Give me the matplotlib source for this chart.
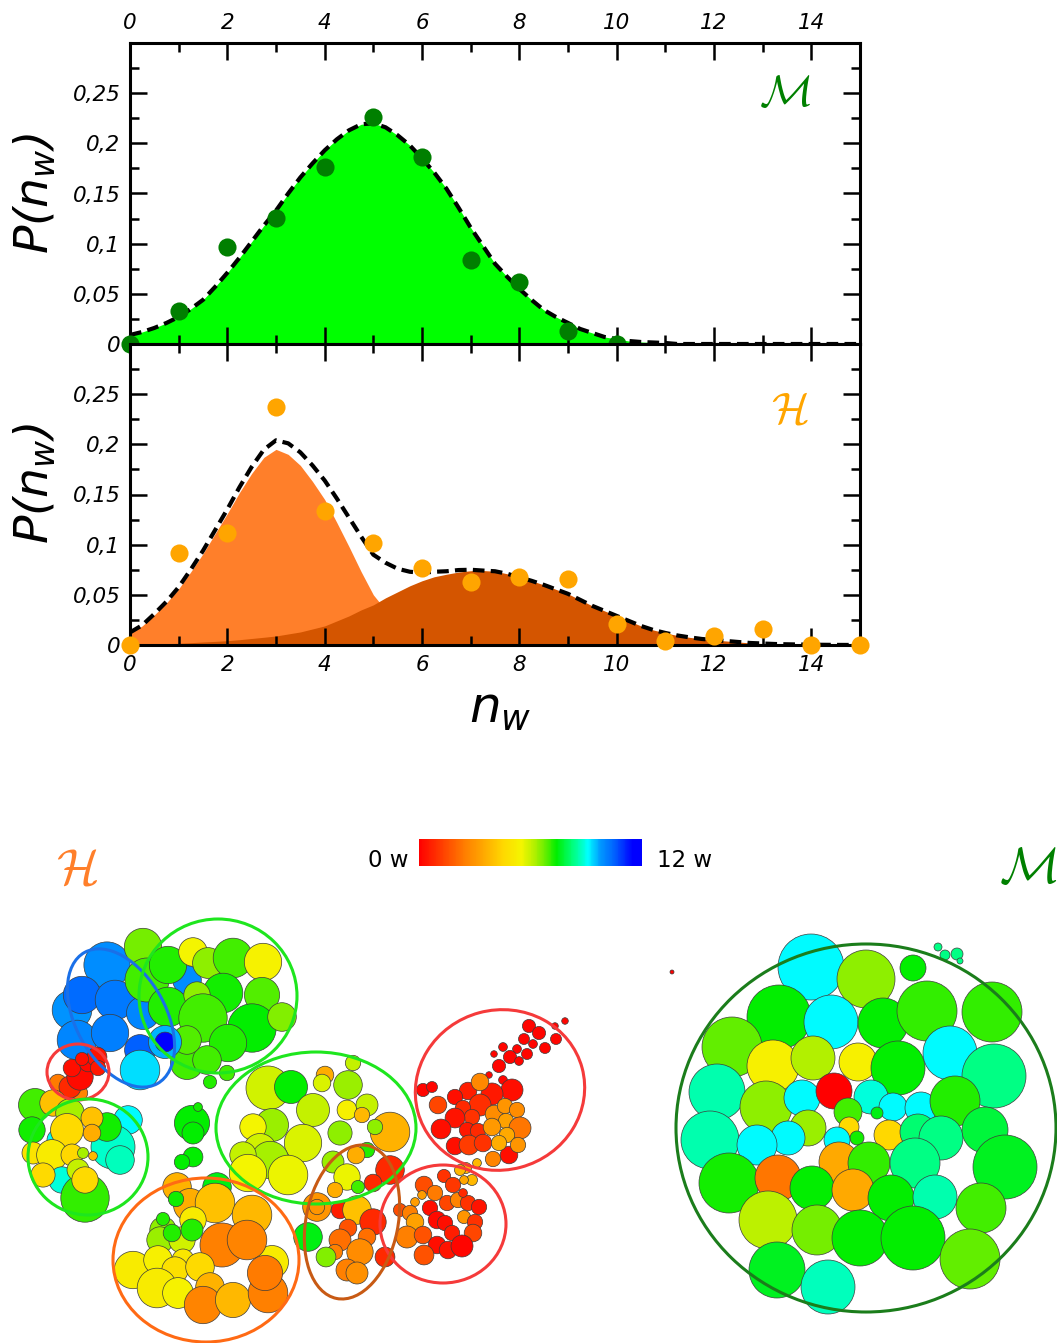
import numpy as np
import matplotlib
matplotlib.use('Agg')
import matplotlib.pyplot as plt
from matplotlib.colors import LinearSegmentedColormap, Normalize
from matplotlib.cm import ScalarMappable
from matplotlib.patches import Circle, Ellipse
from matplotlib.collections import PatchCollection
from matplotlib.ticker import MultipleLocator, FuncFormatter

# ---------------- histogram data ----------------
m_n = np.arange(0, 11)
m_prob = [0.0, 0.033, 0.097, 0.126, 0.176, 0.226, 0.186, 0.084, 0.062, 0.013, 0.0]
h_n = np.arange(0, 16)
h_prob = [0.0, 0.092, 0.112, 0.237, 0.134, 0.102, 0.077, 0.063, 0.068, 0.066,
          0.021, 0.004, 0.009, 0.016, 0.0, 0.0]

# fitted curves every 0.25
fit_x = np.arange(0, 15.01, 0.25)
m_fit = [0.009, 0.012, 0.016, 0.021, 0.027, 0.035, 0.044, 0.057, 0.071, 0.086,
         0.102, 0.118, 0.133, 0.150, 0.166, 0.180, 0.193, 0.204, 0.213, 0.219,
         0.220, 0.216, 0.208, 0.198, 0.185, 0.171, 0.155, 0.136, 0.116, 0.098,
         0.080, 0.067, 0.055, 0.044, 0.034, 0.027, 0.021, 0.015, 0.011, 0.007,
         0.005, 0.003, 0.002, 0.0015, 0.001,
         0, 0, 0, 0, 0, 0, 0, 0, 0, 0, 0, 0, 0, 0, 0, 0]
h_fit_1 = [0.012, 0.019, 0.030, 0.042, 0.056, 0.073, 0.091, 0.111, 0.131, 0.152,
           0.171, 0.187, 0.195, 0.190, 0.179, 0.163, 0.145, 0.122, 0.098, 0.073,
           0.050, 0.035, 0.023, 0.014, 0.008, 0.005, 0.003, 0.002, 0.001,
           0, 0, 0, 0, 0, 0, 0, 0, 0, 0, 0, 0, 0, 0, 0, 0, 0,
           0, 0, 0, 0, 0, 0, 0, 0, 0, 0, 0, 0, 0, 0, 0]
h_fit_2 = [0.0005, 0.0007, 0.001, 0.0013, 0.0017, 0.0023, 0.003, 0.0036, 0.0043, 0.0053,
           0.0065, 0.0077, 0.009, 0.011, 0.013, 0.016, 0.019, 0.024, 0.029, 0.035,
           0.040, 0.047, 0.053, 0.059, 0.064, 0.068, 0.0705, 0.0727, 0.074, 0.0742,
           0.0735, 0.071, 0.0675, 0.064, 0.060, 0.0555, 0.051, 0.045, 0.039, 0.034,
           0.029, 0.024, 0.019, 0.015, 0.012, 0.0095, 0.0076, 0.006, 0.005, 0.004,
           0.003, 0.002, 0.0015, 0.001, 0.0007, 0.0005, 0.0003, 0.0002, 0.0001, 0.00005, 0]

# ---------------- bubble snapshots (pixel coords, radius, waters) ----------------
h_x = [107, 72, 82, 115, 77, 110, 140, 143, 187, 140,
       143, 147, 168, 193, 208, 233, 263, 223, 262, 168, 197, 203, 252, 228, 282,
       187, 207, 227, 210, 187, 165, 165,
       58, 80, 70, 80, 72, 88, 97, 98, 82,
       35, 32, 58, 128, 113, 120, 107, 53, 70, 92, 67, 92, 33, 52, 72, 83, 93,
       62, 85, 78, 43, 85,
       192, 193, 198, 193, 182,
       268, 291, 313, 272, 253, 260, 303, 270, 243, 248, 288, 325, 322, 348, 353,
       347, 367, 362, 390, 340, 375, 367,
       308, 317, 317, 356, 333, 347, 390, 373, 335, 358, 340, 357, 373, 348, 340,
       367, 385, 335, 360, 347, 357, 326,
       217, 177, 190, 215, 252, 176, 163, 160, 163, 193, 182, 172, 192, 272, 222,
       247, 133, 158, 183, 175, 200, 157, 178, 210, 203, 233, 268, 265,
       529, 539, 556, 555, 565, 524, 533, 545, 517, 503, 510, 519, 527, 494, 499,
       489, 503, 423, 432,
       512, 492, 468, 480, 455, 438, 480, 463, 472, 455, 441, 467, 478, 455, 469,
       483, 509, 493, 494, 505, 517, 506, 492, 520, 507, 499, 518, 477, 466,
       460, 472, 464, 424, 444, 453, 435, 422, 415, 400, 410, 415, 407, 423, 430,
       437, 447, 458, 468, 463, 479, 464, 475, 445, 452, 473, 437, 448, 462, 424]
h_y = [965, 1010, 995, 1000, 1040, 1033, 1050, 1013, 980, 1070,
       947, 980, 965, 952, 963, 958, 962, 993, 995, 1007, 995, 1018, 1028, 1043, 1017,
       1063, 1060, 1073, 1082, 1040, 1042, 1042,
       1083, 1093, 1087, 1077, 1068, 1063, 1057, 1068, 1059,
       1105, 1130, 1140, 1120, 1147, 1160, 1127, 1103, 1113, 1118, 1130, 1133, 1153, 1155, 1155, 1153, 1156,
       1180, 1198, 1170, 1175, 1180,
       1123, 1133, 1107, 1157, 1162,
       1088, 1087, 1110, 1125, 1127, 1150, 1143, 1160, 1155, 1173, 1175, 1075, 1083, 1085, 1063,
       1110, 1105, 1115, 1132, 1133, 1127, 1150,
       1237, 1207, 1207, 1155, 1162, 1177, 1170, 1183, 1190, 1187, 1210, 1210, 1222, 1228, 1240,
       1237, 1257, 1252, 1252, 1270, 1273, 1257,
       1187, 1187, 1205, 1203, 1215, 1199, 1230, 1240, 1219, 1220, 1240, 1233, 1230, 1262, 1245,
       1240, 1270, 1260, 1260, 1270, 1267, 1288, 1293, 1287, 1305, 1300, 1293, 1273,
       1026, 1033, 1039, 1026, 1021, 1039, 1044, 1048, 1049, 1047, 1057, 1061, 1054, 1054, 1066,
       1075, 1080, 1090, 1087,
       1090, 1094, 1091, 1082, 1097, 1105, 1105, 1108, 1117, 1118, 1129, 1130, 1131, 1146, 1145,
       1143, 1155, 1159, 1114, 1106, 1110, 1121, 1127, 1128, 1135, 1143, 1145, 1163, 1168,
       1170, 1180, 1180, 1185, 1176, 1185, 1193, 1195, 1202, 1210, 1213, 1222, 1237, 1235, 1208,
       1220, 1203, 1200, 1203, 1193, 1207, 1217, 1222, 1223, 1233, 1233, 1245, 1250, 1246, 1255]
h_r = [21, 18, 17, 18, 18, 17, 14, 15, 13, 18,
       17, 20, 17, 13, 14, 18, 17, 18, 16, 18, 12, 22, 22, 17, 13,
       15, 13, 7, 6, 13, 15, 9,
       8, 7, 10, 12, 8, 8, 9, 7, 6,
       15, 12, 10, 13, 20, 13, 13, 12, 13, 10, 15, 8, 10, 14, 10, 5, 4,
       12, 22, 10, 11, 12,
       16, 10, 4, 9, 7,
       20, 15, 15, 15, 12, 15, 17, 17, 12, 17, 18, 8, 8, 13, 7,
       9, 10, 7, 18, 11, 7, 7,
       13, 13, 7, 8, 10, 12, 13, 8, 7, 6, 8, 13, 12, 8, 10,
       8, 9, 7, 12, 10, 10, 9,
       13, 13, 15, 18, 18, 7, 12, 12, 6, 12, 12, 8, 10, 15, 20,
       18, 17, 13, 10, 12, 13, 18, 14, 13, 17, 16, 18, 16,
       6, 6, 5, 3, 3, 5, 4, 5, 4, 4, 6, 4, 5, 3, 6,
       3, 4, 6, 5,
       10, 10, 8, 8, 7, 8, 10, 7, 7, 9, 9, 7, 7, 8, 9,
       8, 8, 7, 8, 7, 7, 7, 8, 10, 7, 7, 7, 4, 5,
       5, 5, 4, 8, 6, 7, 7, 4, 4, 6, 7, 8, 10, 8, 7,
       8, 7, 7, 7, 4, 7, 6, 7, 7, 7, 8, 8, 8, 10, 9]
h_w = [9.9, 9.8, 10.4, 10.2, 10.0, 10.1, 10.5, 10.0, 9.9, 9.3,
       6.7, 7.0, 7.2, 5.5, 6.5, 7.0, 5.4, 7.3, 6.9, 7.2, 6.5, 7.0, 7.4, 7.2, 6.6,
       7.0, 7.0, 7.0, 7.2, 6.9, 9.6, 11.8,
       2.4, 2.6, 0.8, 0.2, 0.3, 0.2, 0.4, 0.5, 0.3,
       7.0, 7.3, 9.0, 9.1, 8.8, 8.7, 7.3, 4.0, 6.3, 4.0, 4.6, 3.6, 4.9, 5.2, 4.5, 6.3, 3.8,
       8.9, 7.1, 6.0, 4.6, 4.6,
       7.4, 7.4, 7.3, 7.4, 7.4,
       5.9, 7.4, 6.0, 6.4, 5.5, 5.9, 5.8, 6.3, 6.0, 5.5, 5.6, 3.6, 5.8, 6.4, 6.0,
       5.3, 6.0, 3.8, 3.7, 6.5, 6.5, 7.2,
       7.5, 3.0, 3.0, 3.6, 6.4, 5.6, 0.8, 0.8, 3.6, 7.0, 0.6, 4.0, 0.8, 1.6, 2.2,
       2.2, 0.8, 2.5, 2.8, 2.5, 2.9, 6.6,
       7.5, 3.7, 3.6, 4.0, 3.8, 7.3, 6.5, 6.4, 7.2, 5.2, 5.9, 7.2, 7.2, 5.2, 2.5,
       2.6, 5.2, 5.3, 5.0, 4.8, 4.6, 5.2, 5.4, 3.7, 2.6, 3.8, 2.5, 2.4,
       0.1, 0.1, 0.1, 0.1, 0.1, 0.1, 0.1, 0.1, 0.1, 0.1, 0.1, 0.1, 0.1, 0.1, 0.1,
       0.1, 0.1, 0.1, 0.1,
       0.3, 0.5, 0.6, 2.7, 0.3, 1.4, 0.9, 0.8, 1.0, 0.4, 0.3, 0.5, 0.8, 0.3, 1.2,
       1.0, 0.3, 2.6, 2.8, 3.0, 2.8, 3.3, 3.1, 2.3, 3.5, 3.6, 3.0, 3.8, 3.8,
       3.8, 3.8, 3.4, 1.5, 1.0, 1.1, 2.4, 3.2, 3.2, 1.5, 2.5, 3.3, 2.5, 1.6, 0.3,
       0.2, 1.4, 2.6, 1.0, 0.8, 0.4, 3.0, 1.0, 0.3, 0.6, 1.4, 0.3, 0.4, 0.1, 1.6]

m_x = [811, 866, 913, 779, 831, 883, 927, 992, 732, 773, 813, 858, 898, 950, 994,
       717, 766, 802, 834, 871, 893, 921, 955, 848, 877, 849, 808, 788, 889, 918,
       941, 985, 710, 757, 857, 837, 839, 869, 915, 1005, 729, 778, 812, 853, 891,
       935, 981, 768, 817, 860, 913, 970, 777, 828, 938, 945, 957, 960, 672]
m_y = [967, 979, 968, 1017, 1022, 1023, 1011, 1012, 1047, 1066, 1058, 1062, 1068, 1053, 1076,
       1092, 1107, 1098, 1091, 1097, 1107, 1108, 1101, 1112, 1113, 1127, 1128, 1138, 1135, 1132,
       1138, 1130, 1140, 1145, 1138, 1140, 1162, 1163, 1163, 1167, 1183, 1178, 1188, 1190, 1198,
       1197, 1208, 1220, 1230, 1238, 1238, 1259, 1270, 1287, 947, 955, 954, 961, 972]
m_r = [33, 29, 13, 32, 27, 25, 30, 30, 30, 26, 22, 19, 27, 27, 32,
       28, 26, 18, 18, 17, 14, 16, 25, 14, 6, 10, 18, 17, 15, 18,
       22, 23, 29, 20, 7, 13, 20, 21, 25, 32, 30, 23, 22, 21, 23,
       22, 25, 29, 25, 28, 32, 30, 28, 27, 4, 5, 6, 3, 2]
m_w = [9.1, 6.5, 7.4, 7.4, 9.1, 7.4, 7.1, 7.1, 6.8, 5.3, 6.2, 5.3, 7.4, 9.1, 8.3,
       8.6, 6.5, 9.1, 0.0, 8.9, 9.1, 9.1, 7.2, 7.0, 7.5, 4.6, 6.4, 9.1, 4.5, 8.2,
       8.3, 7.8, 8.6, 9.1, 7.3, 9.1, 3.5, 7.1, 8.3, 7.6, 7.3, 2.3, 7.4, 3.5, 7.4,
       8.6, 7.0, 6.1, 6.7, 7.4, 7.4, 6.8, 7.6, 8.7, 8.3, 8.3, 8.3, 8.3, 0.0]

# cluster outlines: centre x, centre y, width, height, angle
ell_x = [121, 78, 218, 88, 316, 500, 443, 206, 352, 866]
ell_y = [1018, 1072, 996, 1157, 1128, 1090, 1224, 1260, 1222, 1128]
ell_w = [150, 62, 158, 120, 200, 170, 126, 186, 156, 380]
ell_h = [90, 56, 154, 116, 152, 160, 118, 164, 92, 368]
ell_a = [61, 0, 0, 0, 0, -15, 0, 0, -78.6, 0]
ell_c = ['#1a70e8', '#f53a3a', '#1ee61e', '#1ee61e', '#1ee61e', '#f53a3a',
         '#f53a3a', '#ff6a14', '#c85a14', '#1b7d1b']

cmap_nodes = [0, 1.0, 2.5, 3.5, 4.5, 5.5, 6.2, 6.8, 7.4, 8.3, 8.7, 9.1, 9.8, 10.5, 11.5, 12]
cmap_cols = ['#ff0000', '#ff3300', '#ff8000', '#ffaa00', '#ffd700', '#f5f500', '#b4f000',
             '#66ee00', '#00ee00', '#00ff80', '#00ffbb', '#00ffff', '#0096ff', '#0064ff',
             '#0000ff', '#0000ff']

plt.rcParams['font.style'] = 'italic'
plt.rcParams['mathtext.fontset'] = 'dejavusans'

W, H = 1057, 1343
fig = plt.figure(figsize=(W / 100, H / 100), dpi=100)


def fy(py):
    return 1 - py / H


def ytick_fmt(v, pos):
    if v < 1e-9:
        return '0'
    if v > 0.26:
        return ''
    return ('%g' % round(v, 3)).replace('.', ',')


def style_axes(ax, top_labels):
    ax.set_xlim(0, 15)
    ax.set_ylim(0, 0.3)
    ax.xaxis.set_major_locator(MultipleLocator(2))
    ax.xaxis.set_minor_locator(MultipleLocator(1))
    ax.yaxis.set_major_locator(MultipleLocator(0.05))
    ax.yaxis.set_minor_locator(MultipleLocator(0.025))
    ax.yaxis.set_major_formatter(FuncFormatter(ytick_fmt))
    ax.tick_params(which='both', direction='in', top=True, right=True, width=1.8)
    ax.tick_params(which='major', length=12)
    ax.tick_params(which='minor', length=6.5)
    ax.tick_params(axis='x', labeltop=top_labels, labelbottom=not top_labels)
    ax.tick_params(labelsize=15.5, pad=7)
    for s in ax.spines.values():
        s.set_linewidth(2.2)


ax1 = fig.add_axes([130 / W, fy(344), 730 / W, 301 / H])
ax2 = fig.add_axes([130 / W, fy(645), 730 / W, 301 / H])

dash = (2.8, 1.5)
ax1.fill_between(fit_x, m_fit, color='#00ff00', lw=0, zorder=1)
ax1.plot(fit_x, m_fit, color='black', lw=3, dashes=dash, zorder=2)
ax1.scatter(m_n, m_prob, s=170, color='#007f00', zorder=5, clip_on=False, lw=0)
style_axes(ax1, True)

h_tot = np.array(h_fit_1) + np.array(h_fit_2)
ax2.fill_between(fit_x, h_fit_1, color='#ff7f2a', lw=0, zorder=1)
ax2.fill_between(fit_x, h_fit_2, color='#d45500', lw=0, zorder=1.1)
ax2.plot(fit_x, h_tot, color='black', lw=3, dashes=dash, zorder=2)
ax2.scatter(h_n, h_prob, s=170, color='#ffa500', zorder=5, clip_on=False, lw=0)
style_axes(ax2, False)

fig.text(35 / W, fy(194), r'$P(n_w)$', rotation=90, fontsize=34, ha='center', va='center')
fig.text(35 / W, fy(484), r'$P(n_w)$', rotation=90, fontsize=34, ha='center', va='center')
fig.text(500 / W, fy(709), r'$n_w$', fontsize=36, ha='center', va='center')

fig.text(785 / W, fy(94), r'$\mathcal{M}$', math_fontfamily='cm', fontsize=32,
         color='#008000', ha='center', va='center')
fig.text(790 / W, fy(410), r'$\mathcal{H}$', math_fontfamily='cm', fontsize=32,
         color='#ffa500', ha='center', va='center')

# ---------------- bubbles ----------------
cmap = LinearSegmentedColormap.from_list('water', list(zip(np.array(cmap_nodes) / 12, cmap_cols)))
norm = Normalize(0, 12)

ax3 = fig.add_axes([0, 0, 1, 603 / H])
ax3.set_xlim(0, W)
ax3.set_ylim(H, 740)
ax3.axis('off')

for xs, ys, rs, ws, k in [(h_x, h_y, h_r, h_w, 1.1), (m_x, m_y, m_r, m_w, 1.0)]:
    pc = PatchCollection([Circle((x, y), r * k) for x, y, r in zip(xs, ys, rs)],
                         cmap=cmap, norm=norm, edgecolor='#3c3c3c', linewidth=0.5)
    pc.set_array(np.array(ws))
    ax3.add_collection(pc)

for x, y, w, h, a, c in zip(ell_x, ell_y, ell_w, ell_h, ell_a, ell_c):
    ax3.add_patch(Ellipse((x, y), w, h, angle=a, fill=False, ec=c, lw=2.2))

fig.text(77 / W, fy(870), r'$\mathcal{H}$', math_fontfamily='cm', fontsize=36,
         color='#ff7f2a', ha='center', va='center')
fig.text(1028 / W, fy(869), r'$\mathcal{M}$', math_fontfamily='cm', fontsize=36,
         color='#008000', ha='center', va='center')

cax = fig.add_axes([419 / W, fy(866), 223 / W, 27 / H])
cb = fig.colorbar(ScalarMappable(norm=norm, cmap=cmap), cax=cax, orientation='horizontal')
cb.outline.set_visible(False)
cb.set_ticks([])
fig.text(408 / W, fy(867), '0 w', style='normal', fontsize=16.5, ha='right', va='baseline')
fig.text(657 / W, fy(867), '12 w', style='normal', fontsize=16.5, ha='left', va='baseline')

fig.savefig('out.png', dpi=100)
